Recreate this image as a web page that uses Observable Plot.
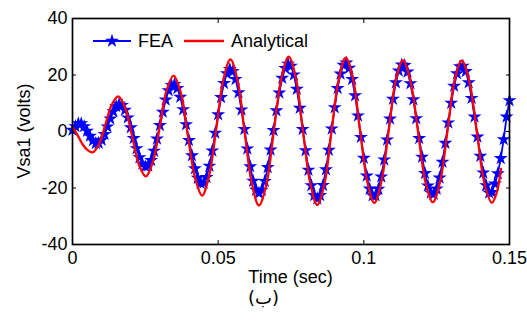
<!DOCTYPE html>
<html><head><meta charset="utf-8">
<script src="https://cdn.jsdelivr.net/npm/d3@7"></script>
<script src="https://cdn.jsdelivr.net/npm/@observablehq/plot@0.6"></script>
<style>
body{margin:0;background:#fff;font-family:"Liberation Sans",Arial,sans-serif}
#cap{width:527px;text-align:center;font-size:18px;line-height:21px;font-family:"DejaVu Sans","Liberation Sans",sans-serif;color:#000}
</style></head><body><div id="chart"></div><div id="cap">(ب)</div>
<script>
// Tick values and labels
const xTicks = [0, 0.05, 0.1, 0.15];
const xTickLabels = ["0", "0.05", "0.1", "0.15"];
const yTicks = [-40, -20, 0, 20, 40];
const yTickLabels = ["-40", "-20", "0", "20", "40"];
const seriesNames = ["FEA", "Analytical"];

// FEA samples (time in sec, volts)
const feaTime = [0,0.001,0.002,0.003,0.004,0.005,0.006,0.007,0.008,0.009,
0.010,0.011,0.012,0.013,0.014,0.015,0.016,0.017,0.018,0.019,
0.020,0.021,0.022,0.023,0.024,0.025,0.026,0.027,0.028,0.029,
0.030,0.031,0.032,0.033,0.034,0.035,0.036,0.037,0.038,0.039,
0.040,0.041,0.042,0.043,0.044,0.045,0.046,0.047,0.048,0.049,
0.050,0.051,0.052,0.053,0.054,0.055,0.056,0.057,0.058,0.059,
0.060,0.061,0.062,0.063,0.064,0.065,0.066,0.067,0.068,0.069,
0.070,0.071,0.072,0.073,0.074,0.075,0.076,0.077,0.078,0.079,
0.080,0.081,0.082,0.083,0.084,0.085,0.086,0.087,0.088,0.089,
0.090,0.091,0.092,0.093,0.094,0.095,0.096,0.097,0.098,0.099,
0.100,0.101,0.102,0.103,0.104,0.105,0.106,0.107,0.108,0.109,
0.110,0.111,0.112,0.113,0.114,0.115,0.116,0.117,0.118,0.119,
0.120,0.121,0.122,0.123,0.124,0.125,0.126,0.127,0.128,0.129,
0.130,0.131,0.132,0.133,0.134,0.135,0.136,0.137,0.138,0.139,
0.140,0.141,0.142,0.143,0.144,0.145,0.146,0.147,0.148,0.149,0.150];
const feaVolts = [0.5,1.8,2.8,2.8,1.8,0.2,-1.6,-3.2,-4.2,-4.1,
-3.0,-1.0,1.7,4.5,7.1,8.9,9.7,9.3,7.6,4.9,
1.4,-2.4,-6.0,-9.2,-11.4,-12.4,-12.1,-10.2,-6.9,-2.6,
2.2,6.9,11.2,14.5,16.4,16.7,15.3,12.2,7.8,2.5,
-3.1,-8.5,-13.1,-16.5,-18.3,-18.2,-16.2,-12.2,-6.8,-0.5,
6.0,12.1,17.1,20.5,22.0,21.3,18.5,13.8,7.7,0.8,
-6.1,-12.4,-17.5,-20.7,-21.8,-20.7,-17.6,-12.7,-6.5,0.4,
7.4,13.7,18.9,22.4,23.9,23.2,20.1,15.0,8.3,0.8,
-6.7,-13.6,-19.1,-22.6,-23.8,-22.6,-19.0,-13.5,-6.6,1.0,
8.5,15.3,20.4,23.5,24.3,22.5,18.5,12.7,5.6,-2.0,
-9.4,-15.7,-20.3,-22.7,-22.7,-20.4,-16.0,-10.0,-2.9,4.5,
11.5,17.3,21.5,23.6,23.4,21.1,17.0,11.3,4.6,-2.4,
-9.0,-14.8,-19.2,-21.7,-22.1,-20.3,-16.4,-10.8,-4.1,3.1,
10.1,16.1,20.5,23.0,23.2,21.3,17.3,11.8,5.2,-1.9,
-8.7,-14.6,-19.1,-21.7,-21.5,-18.5,-14.9,-9.5,-2.8,5.2,11.0];

// Analytical curve (time in sec, volts)
const anaTime = [0,0.0017,0.0035,0.0052,0.0069,0.0091,0.0113,0.0135,0.0157,
0.0181,0.0205,0.0228,0.0252,0.0276,0.0300,0.0323,0.0347,
0.0372,0.0396,0.0421,0.0445,0.0469,0.0494,0.0518,0.0542,
0.0567,0.0591,0.0616,0.0640,0.0666,0.0691,0.0717,0.0742,
0.0767,0.0791,0.0816,0.0840,0.0865,0.0889,0.0914,0.0938,
0.0963,0.0987,0.1012,0.1036,0.1060,0.1085,0.1109,0.1134,
0.1160,0.1186,0.1211,0.1237,0.1262,0.1287,0.1311,0.1336,
0.1362,0.1388,0.1413,0.1439,0.1455,0.1471];
const anaVolts = [1.5,-1.2,-4.6,-6.6,-7.4,-4.5,2.5,9.5,12.4,
8.25,-1.75,-11.75,-15.9,-10.7,1.95,14.6,19.8,
13.6,-1.45,-16.5,-22.7,-15.6,1.4,18.4,25.5,
17.9,-0.35,-18.6,-26.2,-18.5,0.15,18.8,26.5,
18.8,0.25,-18.3,-26.0,-18.4,0.05,18.5,26.1,
18.6,0.4,-17.8,-25.3,-17.9,-0.05,17.8,25.2,
17.85,0.1,-17.65,-25.0,-17.65,0.05,17.75,25.1,
17.75,-0.05,-17.85,-25.2,-22.0,-13.2];

const fea = feaTime.map((t, i) => ({t, v: feaVolts[i]}));
const ana = anaTime.map((t, i) => ({t, v: anaVolts[i]}));
const xLab = new Map(xTicks.map((d, i) => [d, xTickLabels[i]]));
const yLab = new Map(yTicks.map((d, i) => [d, yTickLabels[i]]));

const W = 527, H = 287, ML = 72, MR = 18, MT = 18, MB = 43;
const FS = 18;
const chart = Plot.plot({
  width: W, height: H,
  marginLeft: ML, marginRight: MR, marginTop: MT, marginBottom: MB,
  style: {fontFamily: "'Liberation Sans', Arial, sans-serif", fontSize: FS + "px", color: "#000", background: "#fff", overflow: "visible"},
  x: {domain: [0, 0.15]},
  y: {domain: [-40, 40]},
  marks: [
    Plot.axisX(xTicks, {anchor: "bottom", tickSize: -4, tickPadding: 11, tickFormat: d => xLab.get(d), label: null, fontSize: FS}),
    Plot.axisX(xTicks, {anchor: "top", tickSize: -4, tickFormat: () => "", label: null}),
    Plot.axisY(yTicks, {anchor: "left", tickSize: -4, tickPadding: 9, tickFormat: d => yLab.get(d), label: null, fontSize: FS}),
    Plot.axisY(yTicks, {anchor: "right", tickSize: -4, tickFormat: () => "", label: null}),
    Plot.line(fea, {x: "t", y: "v", stroke: "#0000ff", strokeWidth: 1.8}),
    Plot.dot(fea, {x: "t", y: "v", symbol: "star", r: 4.4, fill: "#0000ff", stroke: "none"}),
    Plot.line(ana, {x: "t", y: "v", stroke: "#ff0000", strokeWidth: 2.3, curve: "catmull-rom"}),
    Plot.frame({stroke: "#000", strokeWidth: 1.7})
  ]
});
document.getElementById("chart").appendChild(chart);

const svg = d3.select(chart);
const txt = (sel) => sel.attr("font-size", FS).attr("fill", "#000")
  .style("font-family", "'Liberation Sans', Arial, sans-serif").style("font-size", FS + "px");
// axis titles
txt(svg.append("text").attr("x", (ML + W - MR) / 2).attr("y", 277).attr("dy", "0.35em")
  .attr("text-anchor", "middle").text("Time (sec)"));
txt(svg.append("text").attr("transform", "translate(24,131) rotate(-90)").attr("dy", "0.35em")
  .attr("text-anchor", "middle").text("Vsa1 (volts)"));
// legend
const lg = svg.append("g").attr("transform", "translate(0,41)");
lg.append("line").attr("x1", 93).attr("x2", 131).attr("stroke", "#0000ff").attr("stroke-width", 1.8);
lg.append("path").attr("transform", "translate(112,0)").attr("d", d3.symbol(d3.symbolStar, Math.PI * 4.4 * 4.4)()).attr("fill", "#0000ff");
txt(lg.append("text").attr("x", 138).attr("dy", "0.35em").attr("text-anchor", "start").text(seriesNames[0]));
lg.append("line").attr("x1", 184).attr("x2", 224).attr("stroke", "#ff0000").attr("stroke-width", 2.3);
txt(lg.append("text").attr("x", 231).attr("dy", "0.35em").attr("text-anchor", "start").text(seriesNames[1]));
</script></body></html>
